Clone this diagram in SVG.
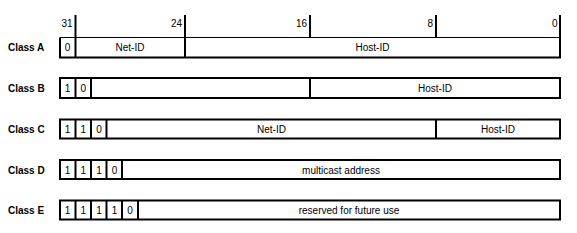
<svg xmlns="http://www.w3.org/2000/svg" width="577" height="233" viewBox="0 0 577 233">
<style>
text{font-family:"Liberation Sans",Arial,sans-serif;font-size:10px;fill:#000}
.lbl{font-weight:bold}
.c{text-anchor:middle}
.r{text-anchor:end}
.box{fill:none;stroke:#000;stroke-width:2}
.div{stroke:#000;stroke-width:1.5}
.tick{stroke:#000;stroke-width:2}
</style>
<rect width="577" height="233" fill="#fff"/>
<g id="scale">
<line class="tick" x1="75.5" y1="15" x2="75.5" y2="38"/>
<line class="tick" x1="185" y1="15" x2="185" y2="38"/>
<line class="tick" x1="310" y1="15" x2="310" y2="38"/>
<line class="tick" x1="436" y1="15" x2="436" y2="38"/>
<line class="tick" x1="560" y1="15" x2="560" y2="38"/>
<text class="r" x="72.5" y="27">31</text>
<text class="r" x="182" y="27">24</text>
<text class="r" x="307" y="27">16</text>
<text class="r" x="433" y="27">8</text>
<text class="r" x="557.5" y="27">0</text>
</g>
<g id="classA">
<text class="lbl" x="8" y="51">Class A</text>
<path class="box" d="M60,37.5 V57.5 H560 V37.5"/>
<line x1="60" y1="37.5" x2="560" y2="37.5" stroke="#000" stroke-width="1"/>
<line class="tick" x1="75.5" y1="38" x2="75.5" y2="57.5"/>
<line class="tick" x1="185" y1="38" x2="185" y2="57.5"/>
<text class="c" x="67.5" y="51">0</text>
<text class="c" x="130" y="51">Net-ID</text>
<text class="c" x="372.5" y="51">Host-ID</text>
</g>
<g id="classB">
<text class="lbl" x="8" y="92">Class B</text>
<rect class="box" x="60" y="78" width="500" height="20"/>
<line class="tick" x1="75.5" y1="78" x2="75.5" y2="98"/>
<line class="tick" x1="91" y1="78" x2="91" y2="98"/>
<line class="tick" x1="310" y1="78" x2="310" y2="98"/>
<text class="c" x="67.5" y="92">1</text>
<text class="c" x="83.3" y="92">0</text>
<text class="c" x="435" y="92">Host-ID</text>
</g>
<g id="classC">
<text class="lbl" x="8" y="133">Class C</text>
<rect class="box" x="60" y="119.5" width="500" height="19"/>
<line class="tick" x1="75.5" y1="119.5" x2="75.5" y2="138.5"/>
<line class="tick" x1="91" y1="119.5" x2="91" y2="138.5"/>
<line class="tick" x1="106.5" y1="119.5" x2="106.5" y2="138.5"/>
<line class="tick" x1="436" y1="119.5" x2="436" y2="138.5"/>
<text class="c" x="67.5" y="133">1</text>
<text class="c" x="83.3" y="133">1</text>
<text class="c" x="99" y="133">0</text>
<text class="c" x="271.5" y="133">Net-ID</text>
<text class="c" x="498" y="133">Host-ID</text>
</g>
<g id="classD">
<text class="lbl" x="8" y="173.5">Class D</text>
<rect class="box" x="60" y="160" width="500" height="19"/>
<line class="tick" x1="75.5" y1="160" x2="75.5" y2="179"/>
<line class="tick" x1="91" y1="160" x2="91" y2="179"/>
<line class="tick" x1="106.5" y1="160" x2="106.5" y2="179"/>
<line class="tick" x1="122" y1="160" x2="122" y2="179"/>
<text class="c" x="67.5" y="173.5">1</text>
<text class="c" x="83.3" y="173.5">1</text>
<text class="c" x="99" y="173.5">1</text>
<text class="c" x="114.5" y="173.5">0</text>
<text class="c" x="341" y="173.5">multicast address</text>
</g>
<g id="classE">
<text class="lbl" x="8" y="214">Class E</text>
<rect class="box" x="60" y="200.5" width="500" height="19"/>
<line class="tick" x1="75.5" y1="200.5" x2="75.5" y2="219.5"/>
<line class="tick" x1="91" y1="200.5" x2="91" y2="219.5"/>
<line class="tick" x1="106.5" y1="200.5" x2="106.5" y2="219.5"/>
<line class="tick" x1="122" y1="200.5" x2="122" y2="219.5"/>
<line class="tick" x1="138" y1="200.5" x2="138" y2="219.5"/>
<text class="c" x="67.5" y="214">1</text>
<text class="c" x="83.3" y="214">1</text>
<text class="c" x="99" y="214">1</text>
<text class="c" x="114.5" y="214">1</text>
<text class="c" x="130" y="214">0</text>
<text class="c" x="349" y="214">reserved for future use</text>
</g>
</svg>
